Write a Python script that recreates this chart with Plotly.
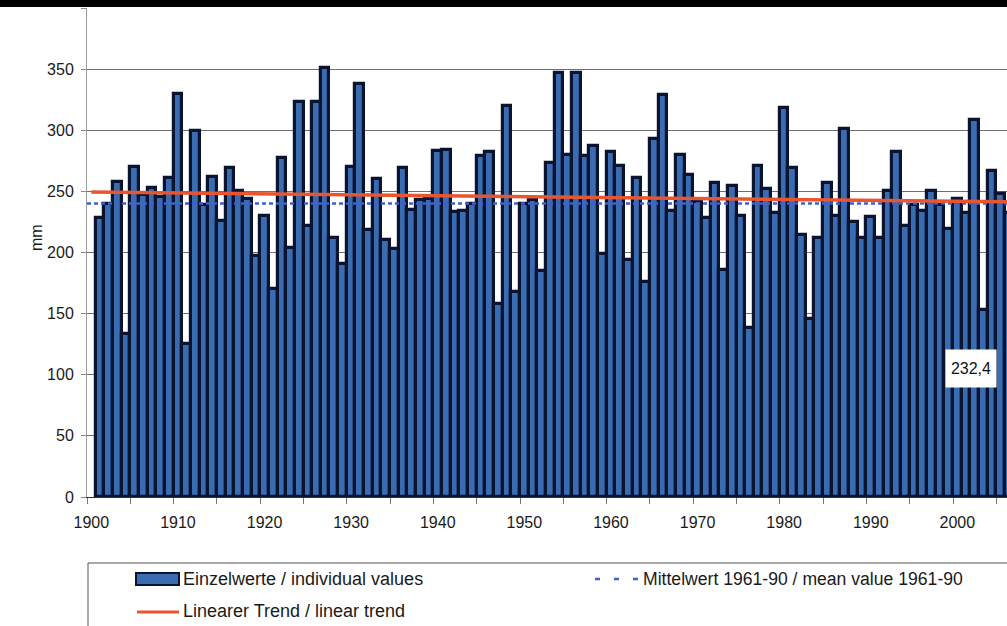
import plotly.graph_objects as go

# ---------------- data ----------------
years = list(range(1901, 2007))
values = [
    228, 240, 258, 133, 270, 247, 253, 245, 261, 330,   # 1901-1910
    125, 299, 239, 262, 226, 269, 250, 244, 197, 230,   # 1911-1920
    170, 277, 204, 323, 222, 323, 351, 212, 191, 270,   # 1921-1930
    338, 218, 260, 210, 203, 269, 235, 243, 244, 283,   # 1931-1940
    284, 233, 234, 240, 279, 282, 158, 320, 168, 240,   # 1941-1950
    243, 185, 273, 347, 280, 347, 279, 287, 199, 282,   # 1951-1960
    271, 194, 261, 176, 293, 329, 234, 280, 263, 241,   # 1961-1970
    228, 257, 186, 254, 230, 138, 271, 252, 232, 318,   # 1971-1980
    269, 214, 146, 212, 257, 230, 301, 225, 212, 229,   # 1981-1990
    212, 250, 282, 222, 239, 234, 250, 239, 219, 244,   # 1991-2000
    232, 308, 153, 267, 248, 232.4,                     # 2001-2006
]
mean_1961_90 = 240.1
trend_years = [1900, 2006]
trend_values = [249.4, 241.4]
x_tick_years = list(range(1900, 2001, 10))
x_tick_labels = [str(y) for y in x_tick_years]
y_ticks = list(range(0, 401, 50))

name_bars = "Einzelwerte / individual values"
name_mean = "Mittelwert 1961-90 / mean value 1961-90"
name_trend = "Linearer Trend / linear trend"

# ---------------- styling ----------------
W, H = 1007, 626
L, R, T, B = 87, 0, 8, 129
PW, PH = W - L - R, H - T - B
FONT = "Liberation Sans, Arial, sans-serif"
BAR_FILL = "#3a6cb2"
BAR_LINE = "#0a1330"
RED = "#e9552f"
BLUE_DASH = "#3f5fd0"

px_per_year = 8.66
x0 = 1899.5
x1 = x0 + PW / px_per_year


def px(xp):
    return (xp - L) / PW


def py(yp):
    return (H - B - yp) / PH


fig = go.Figure()
fig.add_trace(go.Bar(
    x=years, y=values, name=name_bars,
    marker=dict(color=BAR_FILL, line=dict(color=BAR_LINE, width=3.2)),
    showlegend=False,
))
fig.add_trace(go.Scatter(
    x=[x0, years[-1] + 0.5], y=[mean_1961_90, mean_1961_90], mode="lines",
    name=name_mean, line=dict(color=BLUE_DASH, width=2.5, dash="4px,3px"),
    showlegend=False,
))
fig.add_trace(go.Scatter(
    x=trend_years, y=trend_values, mode="lines", name=name_trend,
    line=dict(color=RED, width=3.5), showlegend=False,
))

shapes = []
annotations = []

# black band at the very top of the picture
shapes.append(dict(type="rect", xref="paper", yref="paper", x0=px(-5), x1=px(W + 5),
                   y0=py(7), y1=py(-5), fillcolor="#000000", line=dict(width=0), layer="above"))

# legend box (custom, to mimic wide bar swatch)
shapes.append(dict(type="rect", xref="paper", yref="paper", x0=px(88), x1=px(W + 10),
                   y0=py(H + 10), y1=py(563), fillcolor="rgba(0,0,0,0)",
                   line=dict(color="#555555", width=1), layer="above"))
shapes.append(dict(type="rect", xref="paper", yref="paper", x0=px(136), x1=px(179),
                   y0=py(585), y1=py(573), fillcolor=BAR_FILL,
                   line=dict(color=BAR_LINE, width=2), layer="above"))
shapes.append(dict(type="line", xref="paper", yref="paper", x0=px(137), x1=px(179),
                   y0=py(612), y1=py(612), line=dict(color=RED, width=3), layer="above"))
shapes.append(dict(type="line", xref="paper", yref="paper", x0=px(595), x1=px(641),
                   y0=py(579), y1=py(579), line=dict(color=BLUE_DASH, width=2.5, dash="5px,14px"),
                   layer="above"))

leg_font = dict(family=FONT, size=18, color="#1a1a1a")
annotations.append(dict(xref="paper", yref="paper", x=px(181), y=py(579), text=name_bars,
                        showarrow=False, xanchor="left", yanchor="middle", font=leg_font))
annotations.append(dict(xref="paper", yref="paper", x=px(181), y=py(611), text=name_trend,
                        showarrow=False, xanchor="left", yanchor="middle", font=leg_font))
annotations.append(dict(xref="paper", yref="paper", x=px(641), y=py(579), text=name_mean,
                        showarrow=False, xanchor="left", yanchor="middle",
                        font=dict(family=FONT, size=17.6, color="#1a1a1a")))

# y-axis title
annotations.append(dict(xref="paper", yref="paper", x=px(36), y=py(238), text="mm",
                        showarrow=False, textangle=-90, xanchor="center", yanchor="middle",
                        font=dict(family=FONT, size=16, color="#1a1a1a")))

# data label of the last value
last_label = f"{values[-1]:.1f}".replace(".", ",")
annotations.append(dict(x=x0 + (971 - L) / px_per_year, y=(H - B - 368) / (PH / 400),
                        xref="x", yref="y", text=last_label, showarrow=False,
                        bgcolor="#ffffff", width=42, height=29, borderpad=4,
                        font=dict(family=FONT, size=16, color="#111111")))

fig.update_layout(
    width=W, height=H,
    margin=dict(l=L, r=R, t=T, b=B, pad=0),
    paper_bgcolor="#ffffff", plot_bgcolor="#ffffff",
    bargap=0,
    showlegend=False,
    shapes=shapes, annotations=annotations,
    font=dict(family=FONT, color="#1a1a1a"),
)
fig.update_xaxes(
    range=[x0, x1], tickmode="array", tickvals=x_tick_years, ticktext=x_tick_labels,
    ticks="outside", ticklen=5, tickcolor="rgba(0,0,0,0)", ticklabelstandoff=6,
    tickfont=dict(family=FONT, size=16, color="#1a1a1a"),
    showgrid=False, zeroline=False, showline=True, linecolor="#333333", linewidth=1,
    minor=dict(tickmode="linear", tick0=x0, dtick=5, ticks="outside", ticklen=6,
               tickcolor="#7a7a7a", tickwidth=1, showgrid=False),
)
fig.update_yaxes(
    range=[0, 400], tickmode="array", tickvals=y_ticks,
    ticks="outside", ticklen=5, tickcolor="#8a8a8a", ticklabelstandoff=4,
    tickfont=dict(family=FONT, size=16, color="#1a1a1a"),
    showgrid=True, gridcolor="#6e6e6e", gridwidth=1,
    zeroline=False, showline=True, linecolor="#9a9a9a", linewidth=1,
)

fig.write_html("out.html", config={"displayModeBar": False},
               post_script="document.body.style.margin='0px';")
